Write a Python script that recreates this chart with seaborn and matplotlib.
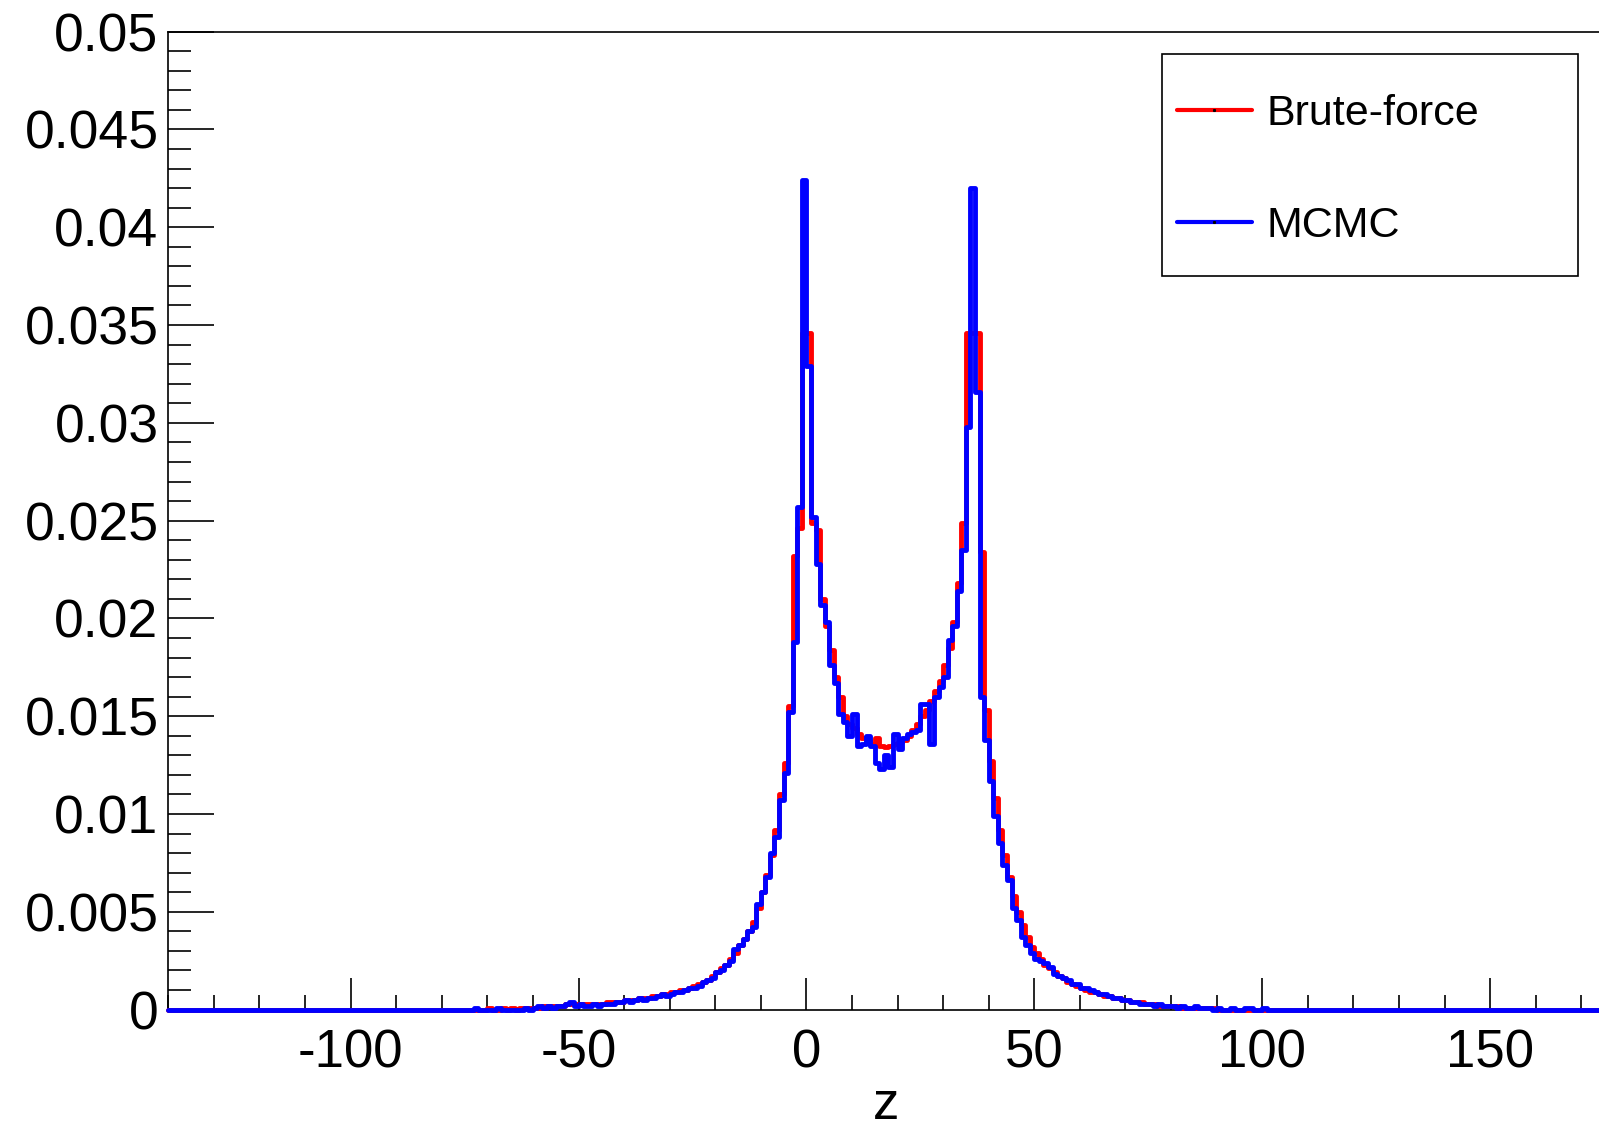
import numpy as np
import pandas as pd
import matplotlib
matplotlib.use("Agg")
import matplotlib.pyplot as plt
import seaborn as sns
from matplotlib.lines import Line2D
from matplotlib.patches import Rectangle
from matplotlib.ticker import FixedLocator, MultipleLocator

# ---------------- data ----------------
series_labels = ["Brute-force", "MCMC"]
series_colors = ["#ff0000", "#0000ff"]

first_bin_edge = -75      # left edge of first listed bin
bin_width = 1.0

# bin contents, bins [first_bin_edge + i, first_bin_edge + i + 1]
brute_force = [
    0, 0, 0, 0, 0, 0.0001, 0, 0, 0.0001, 0,
    0.0001, 0, 0.0001, 0.0001, 0.0001, 0.0001, 0.0001, 0.0002, 0.0002, 0.0002,
    0.0002, 0.0002, 0.0003, 0.0003, 0.0003, 0.0003, 0.0003, 0.0003, 0.0003, 0.0003,
    0.0003, 0.0004, 0.0004, 0.0004, 0.0004, 0.0005, 0.0005, 0.0005, 0.0006, 0.0006,
    0.0006, 0.0007, 0.0007, 0.0008, 0.0008, 0.0009, 0.0009, 0.0010, 0.0010, 0.0011,
    0.0012, 0.0013, 0.0014, 0.0015, 0.0017, 0.0019, 0.0021, 0.0023, 0.0026, 0.0029,
    0.0033, 0.0036, 0.0040, 0.0045, 0.0052, 0.0060, 0.0069, 0.0079, 0.0092, 0.0110,
    0.0126, 0.0155, 0.0232, 0.0246, 0.0346, 0.0346, 0.0249, 0.0245, 0.0210, 0.0196,
    0.0184, 0.0170, 0.0160, 0.0150, 0.0146, 0.0144, 0.0141, 0.0139, 0.0138, 0.0136,
    0.0139, 0.0135, 0.0134, 0.0135, 0.0136, 0.0137, 0.0138, 0.0140, 0.0143, 0.0146,
    0.0150, 0.0153, 0.0158, 0.0163, 0.0168, 0.0176, 0.0185, 0.0198, 0.0218, 0.0249,
    0.0346, 0.0346, 0.0346, 0.0234, 0.0153, 0.0127, 0.0108, 0.0092, 0.0079, 0.0068,
    0.0058, 0.0050, 0.0043, 0.0037, 0.0032, 0.0029, 0.0026, 0.0023, 0.0021, 0.0019,
    0.0017, 0.0016, 0.0014, 0.0013, 0.0012, 0.0011, 0.0010, 0.0009, 0.0009, 0.0008,
    0.0007, 0.0007, 0.0006, 0.0006, 0.0005, 0.0005, 0.0004, 0.0004, 0.0004, 0.0003,
    0.0003, 0.0003, 0.0002, 0.0002, 0.0002, 0.0002, 0.0002, 0.0001, 0.0001, 0.0001,
    0.0001, 0.0001, 0.0001, 0.0001, 0.0001, 0, 0, 0, 0, 0,
    0, 0, 0, 0, 0, 0, 0,
]

mcmc = [
    0, 0, 0.0001, 0, 0, 0, 0, 0.0001, 0, 0,
    0, 0, 0, 0.0001, 0, 0.0001, 0.0002, 0.0001, 0.0002, 0.0001,
    0.0002, 0.0002, 0.0003, 0.0004, 0.0002, 0.0003, 0.0002, 0.0002, 0.0003, 0.0002,
    0.0003, 0.0003, 0.0003, 0.0004, 0.0004, 0.0005, 0.0004, 0.0005, 0.0006, 0.0005,
    0.0006, 0.0006, 0.0007, 0.0008, 0.0007, 0.0008, 0.0009, 0.0009, 0.0010, 0.0011,
    0.0011, 0.0012, 0.0014, 0.0015, 0.0016, 0.0019, 0.0020, 0.0023, 0.0025, 0.0031,
    0.0033, 0.0036, 0.0040, 0.0042, 0.0054, 0.0060, 0.0068, 0.0080, 0.0088, 0.0107,
    0.0121, 0.0152, 0.0188, 0.0257, 0.0424, 0.0329, 0.0252, 0.0228, 0.0207, 0.0198,
    0.0176, 0.0167, 0.0151, 0.0147, 0.0140, 0.0151, 0.0135, 0.0136, 0.0140, 0.0135,
    0.0126, 0.0123, 0.0130, 0.0124, 0.0141, 0.0133, 0.0139, 0.0141, 0.0142, 0.0143,
    0.0156, 0.0156, 0.0136, 0.0160, 0.0165, 0.0170, 0.0189, 0.0196, 0.0214, 0.0235,
    0.0298, 0.0420, 0.0316, 0.0160, 0.0138, 0.0117, 0.0099, 0.0085, 0.0074, 0.0066,
    0.0052, 0.0046, 0.0037, 0.0033, 0.0029, 0.0026, 0.0025, 0.0024, 0.0022, 0.0018,
    0.0017, 0.0016, 0.0015, 0.0013, 0.0013, 0.0011, 0.0011, 0.0010, 0.0009, 0.0008,
    0.0008, 0.0007, 0.0006, 0.0006, 0.0005, 0.0005, 0.0004, 0.0004, 0.0003, 0.0003,
    0.0003, 0.0002, 0.0003, 0.0002, 0.0002, 0.0002, 0.0001, 0.0002, 0.0001, 0.0001,
    0.0002, 0.0001, 0.0001, 0.0001, 0, 0.0001, 0, 0, 0.0001, 0,
    0, 0.0001, 0.0001, 0, 0, 0.0001, 0,
]

x_limits = (-140, 175)
y_limits = (0, 0.05)
x_major_ticks = [-100, -50, 0, 50, 100, 150]
x_tick_labels = ["-100", "-50", "0", "50", "100", "150"]
y_major_ticks = [0, 0.005, 0.01, 0.015, 0.02, 0.025, 0.03, 0.035, 0.04, 0.045, 0.05]
y_tick_labels = ["0", "0.005", "0.01", "0.015", "0.02", "0.025",
                 "0.03", "0.035", "0.04", "0.045", "0.05"]
x_title = "z"

# ---------------- style ----------------
sns.set_theme(style="ticks")
plt.rcParams["font.family"] = ["Liberation Sans", "DejaVu Sans"]
plt.rcParams["text.color"] = "black"

fig = plt.figure(figsize=(15.99, 11.28), dpi=100)
ax = fig.add_axes([0.10525, 0.1050, 0.8979, 0.8669])

# full binning across the axis range (empty bins are zero)
n_bins = int(round((x_limits[1] - x_limits[0]) / bin_width))
centers = x_limits[0] + bin_width * (np.arange(n_bins) + 0.5)
offset = int(round((first_bin_edge - x_limits[0]) / bin_width))

for vals, col in zip([brute_force, mcmc], series_colors):
    full = np.zeros(n_bins)
    full[offset:offset + len(vals)] = vals
    df = pd.DataFrame({"z": centers, "w": full})
    sns.histplot(data=df, x="z", weights="w", binwidth=bin_width,
                 binrange=x_limits, element="step",
                 fill=False, color=col, linewidth=3.5, ax=ax)

for ln in ax.lines:
    ln.set_clip_on(False)
    ln.set_zorder(3)

ax.set_xlim(*x_limits)
ax.set_ylim(*y_limits)

ax.xaxis.set_major_locator(FixedLocator(x_major_ticks))
ax.set_xticklabels(x_tick_labels)
ax.xaxis.set_minor_locator(MultipleLocator(10))
ax.yaxis.set_major_locator(FixedLocator(y_major_ticks))
ax.set_yticklabels(y_tick_labels)
ax.yaxis.set_minor_locator(MultipleLocator(0.001))

ax.tick_params(axis="x", which="major", direction="in", length=23, width=1.2,
               labelsize=38, pad=13.5, colors="black", top=False)
ax.tick_params(axis="x", which="minor", direction="in", length=11, width=1.2,
               top=False, colors="black")
ax.tick_params(axis="y", which="major", direction="in", length=33, width=1.2,
               labelsize=38.5, pad=7, colors="black", right=False)
ax.tick_params(axis="y", which="minor", direction="in", length=16.5, width=1.2,
               right=False, colors="black")

for side in ["left", "top", "bottom"]:
    ax.spines[side].set_visible(True)
    ax.spines[side].set_color("black")
    ax.spines[side].set_linewidth(1.2)
ax.spines["right"].set_visible(False)

ax.set_ylabel("")
ax.set_xlabel(x_title, fontsize=38, color="black")
ax.xaxis.set_label_coords(0.5, -0.0725)

# legend
handles = [Line2D([], [], color=c, lw=3.0, marker="s", markersize=1.2,
                  markerfacecolor="black", markeredgecolor="black")
           for c in series_colors]
leg = ax.legend(handles, series_labels, loc="upper left",
                bbox_to_anchor=(0.7359, 0.9165), bbox_transform=fig.transFigure,
                frameon=False, fontsize=31, handlelength=1.74, handletextpad=0.35,
                labelspacing=1.67, borderpad=0, borderaxespad=0, numpoints=1,
                labelcolor="black")
fig.add_artist(Rectangle((0.7265, 0.7553), 0.2604, 0.1968, fill=False,
                         edgecolor="black", linewidth=1.2,
                         transform=fig.transFigure))

fig.savefig("out.png", dpi=100)
